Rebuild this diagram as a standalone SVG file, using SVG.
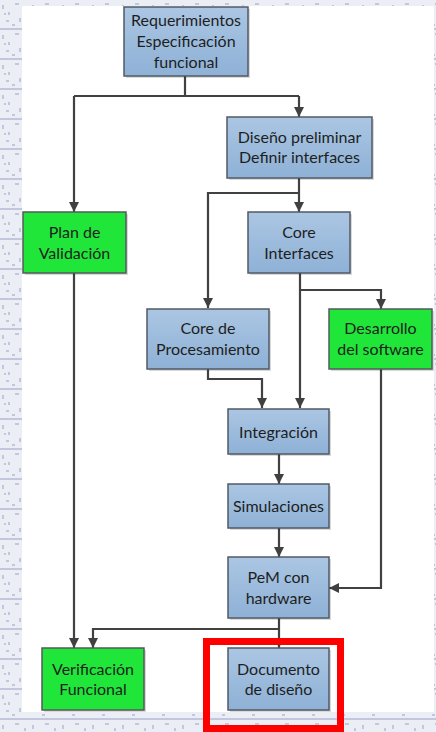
<svg xmlns="http://www.w3.org/2000/svg" width="436" height="732" viewBox="0 0 436 732">
<defs>
  <linearGradient id="blueFill" x1="0" y1="0" x2="0" y2="1">
    <stop offset="0" stop-color="#abc6e3"/>
    <stop offset="1" stop-color="#8eb1d6"/>
  </linearGradient>
  <pattern id="tex" width="30" height="30" patternUnits="userSpaceOnUse">
    <rect width="30" height="30" fill="#eceef6"/>
    <path d="M0,29 H30 M3,5 v4 M9,12 v3 M15,4 h4 M20,18 v4 M6,21 h3 M25,8 v3 M12,25 h3 M27,15 h2 M4,14 h2" stroke="#98a0c6" stroke-width="1" fill="none"/>
  </pattern>
  <marker id="arr" viewBox="0 0 10 10" refX="10" refY="5" markerWidth="10" markerHeight="10" markerUnits="userSpaceOnUse" orient="auto">
    <path d="M0,0 L10,5 L0,10 z" fill="#404040"/>
  </marker>
  <style>
    .blue { fill: url(#blueFill); stroke: #505a66; stroke-width: 1.5; }
    .green { fill: #20e63a; stroke: #555a5e; stroke-width: 1.5; }
    .shadow { fill: #000; opacity: 0.15; }
    .lbl { font-family: Lato, "Liberation Sans", sans-serif; font-size: 16px; fill: #1e1e1e; text-anchor: middle; }
    .con { fill: none; stroke: #414141; stroke-width: 2.2; }
  </style>
</defs>

<rect x="0" y="0" width="436" height="732" fill="url(#tex)"/>
<rect x="22" y="6" width="412" height="706" fill="#ffffff"/>

<g id="connectors">
  <path class="con" d="M185,76 V96"/>
  <path class="con" d="M74,96 H299"/>
  <path class="con" d="M74,96 V212" marker-end="url(#arr)"/>
  <path class="con" d="M299,96 V117" marker-end="url(#arr)"/>
  <path class="con" d="M299,178 V212" marker-end="url(#arr)"/>
  <path class="con" d="M299,193 H208 V308" marker-end="url(#arr)"/>
  <path class="con" d="M300,273 V408" marker-end="url(#arr)"/>
  <path class="con" d="M300,290 H381 V309" marker-end="url(#arr)"/>
  <path class="con" d="M208,369 V379 H262 V408" marker-end="url(#arr)"/>
  <path class="con" d="M279,454 V484" marker-end="url(#arr)"/>
  <path class="con" d="M279,528 V557" marker-end="url(#arr)"/>
  <path class="con" d="M381,369 V588 H329" marker-end="url(#arr)"/>
  <path class="con" d="M74,273 V648" marker-end="url(#arr)"/>
  <path class="con" d="M279,618 V648" marker-end="url(#arr)"/>
  <path class="con" d="M279,629 H93 V648" marker-end="url(#arr)"/>
</g>

<g id="requerimientos">
  <rect class="shadow" x="126" y="9" width="124" height="69"/>
  <rect class="blue" x="124" y="7" width="124" height="69"/>
  <text class="lbl" x="186" y="25.5">Requerimientos</text>
  <text class="lbl" x="186" y="46.5">Especificación</text>
  <text class="lbl" x="186" y="67.5">funcional</text>
</g>

<g id="diseno-preliminar">
  <rect class="shadow" x="229" y="119" width="145" height="61"/>
  <rect class="blue" x="227" y="117" width="145" height="61"/>
  <text class="lbl" x="299.5" y="142.5">Diseño preliminar</text>
  <text class="lbl" x="299.5" y="162.5">Definir interfaces</text>
</g>

<g id="plan-validacion">
  <rect class="shadow" x="25" y="214" width="103" height="61"/>
  <rect class="green" x="23" y="212" width="103" height="61"/>
  <text class="lbl" x="74.5" y="237.5">Plan de</text>
  <text class="lbl" x="74.5" y="258.5">Validación</text>
</g>

<g id="core-interfaces">
  <rect class="shadow" x="250" y="214" width="102" height="61"/>
  <rect class="blue" x="248" y="212" width="102" height="61"/>
  <text class="lbl" x="299" y="237.5">Core</text>
  <text class="lbl" x="299" y="258.5">Interfaces</text>
</g>

<g id="core-procesamiento">
  <rect class="shadow" x="149" y="311" width="122" height="60"/>
  <rect class="blue" x="147" y="309" width="122" height="60"/>
  <text class="lbl" x="208" y="333.5">Core de</text>
  <text class="lbl" x="208" y="354.5">Procesamiento</text>
</g>

<g id="desarrollo-software">
  <rect class="shadow" x="331" y="311" width="103" height="60"/>
  <rect class="green" x="329" y="309" width="103" height="60"/>
  <text class="lbl" x="380.5" y="333.5">Desarrollo</text>
  <text class="lbl" x="380.5" y="354.5">del software</text>
</g>

<g id="integracion">
  <rect class="shadow" x="230" y="411" width="101" height="45"/>
  <rect class="blue" x="228" y="409" width="101" height="45"/>
  <text class="lbl" x="278.5" y="437.5">Integración</text>
</g>

<g id="simulaciones">
  <rect class="shadow" x="230" y="486" width="101" height="44"/>
  <rect class="blue" x="228" y="484" width="101" height="44"/>
  <text class="lbl" x="278.5" y="512">Simulaciones</text>
</g>

<g id="pem-hardware">
  <rect class="shadow" x="230" y="559" width="101" height="61"/>
  <rect class="blue" x="228" y="557" width="101" height="61"/>
  <text class="lbl" x="278.5" y="582.5">PeM con</text>
  <text class="lbl" x="278.5" y="603.5">hardware</text>
</g>

<g id="verificacion-funcional">
  <rect class="shadow" x="44" y="650" width="102" height="62"/>
  <rect class="green" x="42" y="648" width="102" height="62"/>
  <text class="lbl" x="93" y="674.5">Verificación</text>
  <text class="lbl" x="93" y="694.5">Funcional</text>
</g>

<g id="documento-diseno">
  <rect class="shadow" x="230" y="650" width="101" height="62"/>
  <rect class="blue" x="228" y="648" width="101" height="62"/>
  <text class="lbl" x="278.5" y="674.5">Documento</text>
  <text class="lbl" x="278.5" y="694.5">de diseño</text>
</g>

<rect id="highlight" x="206.5" y="641.5" width="134" height="87" fill="none" stroke="#ff0000" stroke-width="7"/>
</svg>
